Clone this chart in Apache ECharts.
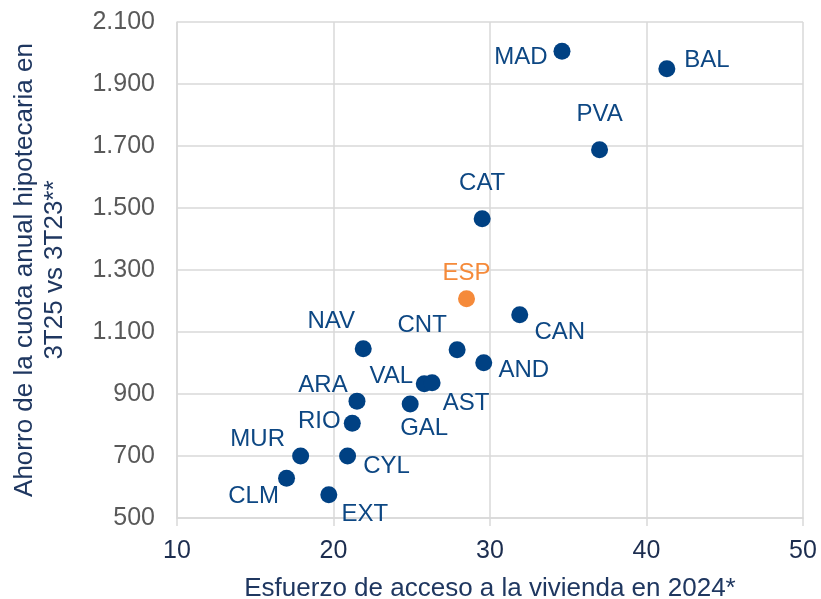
<!DOCTYPE html>
<html style="height: 100%; width: 100%">
<head>
  <meta charset="utf-8" />
</head>
<body style="height: 100%; width: 100%; margin: 0; background: #ffffff;">
  <div id="chart-panel" style="height: 599px; width: 821px;"></div>
  <script type="text/javascript" src="https://cdn.jsdelivr.net/npm/echarts@6.0.0/dist/echarts.min.js"></script>
  <script type="text/javascript">
    // comunidades autonomas
    var names = ["MAD", "BAL", "PVA", "CAT", "ESP", "CAN", "CNT", "NAV", "AND", "VAL", "AST", "ARA", "GAL", "RIO", "MUR", "CYL", "CLM", "EXT"];
    // esfuerzo de acceso 2024 (eje x)
    var esfuerzo = [34.6, 41.3, 37.0, 29.5, 28.5, 31.9, 27.9, 21.9, 29.6, 25.8, 26.3, 21.5, 24.9, 21.2, 17.9, 20.9, 17.0, 19.7];
    // ahorro cuota anual 3T25 vs 3T23 (eje y)
    var ahorro = [2006, 1949, 1688, 1465, 1207, 1156, 1043, 1046, 1001, 933, 936, 877, 868, 806, 700, 700, 628, 575];
    var yTicks = [500, 700, 900, 1100, 1300, 1500, 1700, 1900, 2100];

    // desplazamiento de las etiquetas respecto al punto
    var labelOffset = {
      MAD: [-41, 6], BAL: [40, -8], PVA: [0, -35], CAT: [0, -35], ESP: [0, -25],
      CAN: [40, 18], CNT: [-35, -24], NAV: [-32, -27], AND: [40, 8], VAL: [-33, -7],
      AST: [34, 21], ARA: [-34, -16], GAL: [14, 24], RIO: [-33, -2], MUR: [-43, -17],
      CYL: [39, 10], CLM: [-33, 18], EXT: [36, 20]
    };

    var azul = "#004183";
    var naranja = "#F58A3A";
    var fuente = "Liberation Sans, Arial, sans-serif";

    function miles(v) {
      return String(v).replace(/\B(?=(\d{3})+(?!\d))/g, ".");
    }

    var puntos = names.map(function (n, i) {
      var c = n === "ESP" ? naranja : azul;
      return {
        name: n,
        value: [esfuerzo[i], ahorro[i]],
        itemStyle: { color: c, opacity: 1 },
        label: {
          show: true,
          formatter: n,
          position: "inside",
          align: "center",
          verticalAlign: "middle",
          offset: labelOffset[n],
          color: n === "ESP" ? naranja : "#0d4783",
          fontSize: 24,
          fontFamily: fuente
        }
      };
    });

    var myChart = echarts.init(document.getElementById("chart-panel"));
    var option = {
      animation: false,
      grid: { left: 177, right: 18, top: 22, bottom: 81, containLabel: false, outerBoundsMode: "none" },
      xAxis: {
        type: "value",
        min: 10,
        max: 50,
        interval: 10,
        name: "Esfuerzo de acceso a la vivienda en 2024*",
        nameLocation: "middle",
        nameGap: 58,
        nameTextStyle: {
          fontSize: 26,
          color: "#1f3760",
          fontFamily: fuente
        },
        axisLine: { show: true, lineStyle: { color: "#d9d9d9", width: 1.5 } },
        axisTick: { show: true, inside: false, length: 8, lineStyle: { color: "#d9d9d9", width: 1.5 } },
        splitLine: { show: true, lineStyle: { color: "#d9d9d9", width: 1.5 } },
        axisLabel: {
          margin: 21,
          fontSize: 25,
          color: "#1c2d4f",
          fontFamily: fuente
        }
      },
      yAxis: {
        type: "value",
        min: 500,
        max: 2100,
        name: "Ahorro de la cuota anual hipotecaria en\n3T25 vs 3T23**",
        nameLocation: "middle",
        nameGap: 107,
        nameTextStyle: {
          fontSize: 26,
          lineHeight: 30,
          color: "#1f3760",
          fontFamily: fuente
        },
        axisLine: { show: true, lineStyle: { color: "#d9d9d9", width: 1.5 } },
        axisTick: { show: false, customValues: yTicks },
        splitLine: { show: true, lineStyle: { color: "#d9d9d9", width: 1.5 } },
        axisLabel: {
          customValues: yTicks,
          margin: 22,
          fontSize: 25,
          color: "#595959",
          fontFamily: fuente,
          formatter: function (v) { return miles(v); }
        }
      },
      series: [
        {
          type: "scatter",
          symbol: "circle",
          symbolSize: 17,
          itemStyle: { opacity: 1 },
          data: puntos
        }
      ]
    };
    myChart.setOption(option);
  </script>
</body>
</html>
